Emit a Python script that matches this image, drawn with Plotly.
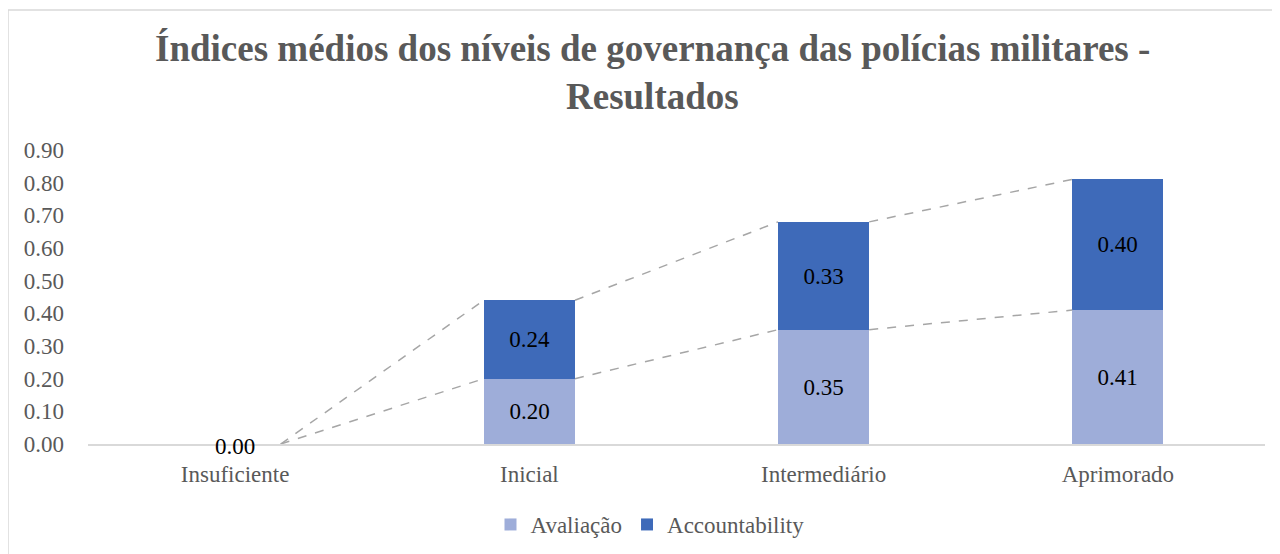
import plotly.graph_objects as go

categories = ["Insuficiente", "Inicial", "Intermediário", "Aprimorado"]
avaliacao = [0.00, 0.20, 0.35, 0.41]
accountability = [0.00, 0.24, 0.33, 0.40]
ytickvals = [0.0, 0.1, 0.2, 0.3, 0.4, 0.5, 0.6, 0.7, 0.8, 0.9]
yticktext = ["0.00", "0.10", "0.20", "0.30", "0.40", "0.50", "0.60", "0.70", "0.80", "0.90"]
title_lines = ["Índices médios dos níveis de governança das polícias militares -", "Resultados"]

FONT = "Liberation Serif, Times New Roman, serif"
C_AV = "#9EADD9"
C_AC = "#3E6AB9"
BW = 0.31
FS = 23

# page body has an 8px margin; work in target-window pixels and convert
OFF = 8
W, H = 1280 - OFF, 554 - OFF
ml, mr, mt, mb = 88 - OFF, 15, 150 - OFF, 110
pw = W - ml - mr
ph = H - mt - mb

def px2x(p):
    return (p - OFF - ml) / pw

def py2y(p):
    return (H - mb - (p - OFF)) / ph

xs = list(range(len(categories)))
fig = go.Figure()

fig.add_trace(go.Bar(
    x=xs, y=avaliacao, name="Avaliação", marker=dict(color=C_AV, line=dict(width=0)), width=BW,
    text=[f"{v:.2f}" if v > 0 else "" for v in avaliacao],
    textposition="inside", insidetextanchor="middle",
    textfont=dict(family=FONT, size=FS, color="black"),
))
fig.add_trace(go.Bar(
    x=xs, y=accountability, name="Accountability", marker=dict(color=C_AC, line=dict(width=0)), width=BW,
    text=[f"{v:.2f}" if v > 0 else "" for v in accountability],
    textposition="inside", insidetextanchor="middle",
    textfont=dict(family=FONT, size=FS, color="black"),
))

# series lines (connect bar tops)
tops1 = avaliacao
tops2 = [a + b for a, b in zip(avaliacao, accountability)]
for tops in (tops1, tops2):
    lx, ly = [], []
    for i in range(len(xs) - 1):
        lx += [xs[i] + BW / 2, xs[i + 1] - BW / 2, None]
        ly += [tops[i], tops[i + 1], None]
    fig.add_trace(go.Scatter(
        x=lx, y=ly, mode="lines", showlegend=False, hoverinfo="skip",
        line=dict(color="#A6A6A6", width=1.5, dash="dash"),
    ))

# zero label for first category
fig.add_annotation(
    x=xs[0], y=tops2[0], text=f"{tops2[0]:.2f}", showarrow=False,
    xanchor="center", yanchor="middle", yshift=-2,
    font=dict(family=FONT, size=FS, color="black"),
)

fig.add_shape(type="rect", xref="paper", yref="paper",
              x0=px2x(8), x1=px2x(1300), y0=py2y(570), y1=py2y(10),
              line=dict(color="#D9D9D9", width=1.5), fillcolor="rgba(0,0,0,0)", layer="below")

for txt, yc in zip(title_lines, [49, 96]):
    fig.add_annotation(
        text=f"<b>{txt}</b>", xref="paper", yref="paper",
        x=px2x(652), y=py2y(yc), xanchor="center", yanchor="middle",
        showarrow=False, font=dict(family=FONT, size=37, color="#595959"),
    )

fig.update_layout(
    width=W, height=H,
    margin=dict(l=ml, r=mr, t=mt, b=mb, autoexpand=False),
    barmode="stack",
    bargap=0,
    plot_bgcolor="white", paper_bgcolor="white",
    font=dict(family=FONT, size=FS, color="#595959"),
    xaxis=dict(
        range=[-0.5, 3.5], tickvals=xs, ticktext=categories,
        showgrid=False, zeroline=False, showline=True,
        linecolor="#D9D9D9", linewidth=1.5, ticks="",
        ticklabelstandoff=9, automargin=False,
        tickfont=dict(family=FONT, size=FS, color="#595959"),
    ),
    yaxis=dict(
        range=[0, 0.9], tickvals=ytickvals, ticktext=yticktext,
        showgrid=False, zeroline=False, showline=False, ticks="",
        ticklabelstandoff=23, automargin=False,
        tickfont=dict(family=FONT, size=FS, color="#595959"),
    ),
    legend=dict(
        orientation="h", x=(650 - OFF) / W, xanchor="center", xref="container",
        y=1 - (503 - OFF) / H, yanchor="top", yref="container",
        font=dict(family=FONT, size=FS, color="#595959"),
        traceorder="normal", itemwidth=30,
    ),
)

fig.write_html("out.html")
